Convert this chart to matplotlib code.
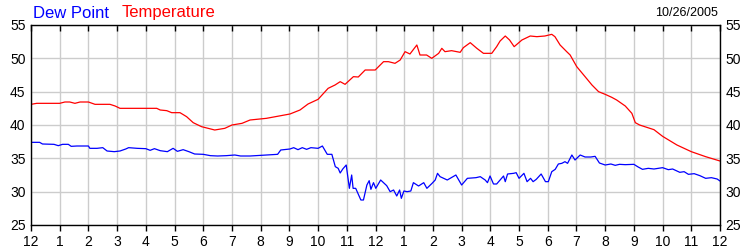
import matplotlib
matplotlib.use("Agg")
import matplotlib.pyplot as plt

plt.rcParams["font.family"] = ["Liberation Sans", "DejaVu Sans"]

# hours since midnight, 10/26/2005
temp_hours = [0.0, 0.2, 1.0, 1.18, 1.35, 1.53, 1.71, 2.0, 2.23, 2.75, 2.93, 3.1, 3.6, 4.38,
              4.5, 4.73, 4.9, 5.19, 5.42, 5.65, 5.94, 6.4, 6.75, 7.0, 7.35, 7.63, 8.2,
              9.02, 9.37, 9.65, 10.0, 10.35, 10.59, 10.77, 10.94, 11.23, 11.4, 11.64,
              11.99, 12.28, 12.45, 12.68, 12.86, 13.03, 13.2, 13.44, 13.55, 13.78, 13.96,
              14.2, 14.31, 14.42, 14.65, 14.95, 15.06, 15.3, 15.53, 15.76, 16.05, 16.22,
              16.34, 16.52, 16.67, 16.83, 17.1, 17.39, 17.62, 17.9, 18.14, 18.25, 18.43,
              18.66, 18.78, 19.01, 19.3, 19.54, 19.77, 20.0, 20.23, 20.4, 20.7, 20.93,
              21.05, 21.2, 21.7, 22.0, 22.5, 23.0, 23.5, 24.0]
temperature = [43.1, 43.25, 43.25, 43.45, 43.45, 43.25, 43.45, 43.45, 43.1, 43.1, 42.85,
               42.5, 42.5, 42.5, 42.25, 42.15, 41.85, 41.85, 41.25, 40.35, 39.75, 39.25,
               39.5, 40.0, 40.25, 40.75, 41.0, 41.65, 42.25, 43.15, 43.85, 45.5, 46.0,
               46.5, 46.1, 47.25, 47.2, 48.25, 48.25, 49.5, 49.5, 49.25, 49.75, 51.0,
               50.65, 52.0, 50.5, 50.5, 50.0, 50.75, 51.5, 51.0, 51.15, 50.9, 51.6,
               52.35, 51.5, 50.75, 50.75, 51.75, 52.6, 53.35, 52.75, 51.75, 52.75,
               53.35, 53.25, 53.35, 53.6, 53.25, 52.0, 51.0, 50.5, 48.75, 47.25, 46.0,
               45.0, 44.6, 44.15, 43.75, 42.85, 41.75, 40.35, 40.0, 39.3, 38.3, 37.0,
               36.0, 35.25, 34.6]

dew_hours = [0.0, 0.3, 0.4, 0.8, 0.95, 1.1, 1.3, 1.4, 1.6, 2.0, 2.05, 2.3, 2.5, 2.65, 2.9,
             3.1, 3.3, 3.4, 3.7, 4.0, 4.15, 4.3, 4.5, 4.75, 4.95, 5.1, 5.3, 5.5, 5.7,
             6.0, 6.25, 6.5, 6.8, 7.1, 7.3, 7.63, 8.0, 8.59, 8.7, 9.02, 9.15, 9.3, 9.45,
             9.6, 9.75, 10.0, 10.15, 10.32, 10.48, 10.6, 10.7, 10.77, 10.86, 10.98,
             11.09, 11.17, 11.22, 11.31, 11.49, 11.58, 11.7, 11.78, 11.84, 11.93, 12.01,
             12.18, 12.39, 12.51, 12.63, 12.74, 12.84, 12.9, 12.99, 13.1, 13.23, 13.32,
             13.5, 13.68, 13.79, 13.97, 14.08, 14.16, 14.25, 14.5, 14.8, 15.0, 15.2,
             15.5, 15.65, 15.82, 15.9, 15.99, 16.11, 16.22, 16.46, 16.52, 16.6, 16.81,
             16.9, 17.0, 17.17, 17.28, 17.4, 17.49, 17.6, 17.77, 17.92, 18.02, 18.14,
             18.26, 18.37, 18.49, 18.6, 18.69, 18.84, 18.95, 19.13, 19.3, 19.5, 19.65,
             19.8, 20.0, 20.2, 20.35, 20.5, 20.7, 21.0, 21.15, 21.3, 21.5, 21.7, 22.0,
             22.2, 22.35, 22.6, 22.75, 22.9, 23.1, 23.3, 23.5, 23.7, 23.9, 24.0]
dew_point = [37.4, 37.4, 37.15, 37.1, 36.9, 37.1, 37.1, 36.8, 36.85, 36.85, 36.5, 36.5,
             36.6, 36.1, 36.0, 36.1, 36.4, 36.6, 36.5, 36.45, 36.2, 36.45, 36.15, 36.0,
             36.5, 36.05, 36.3, 36.0, 35.65, 35.6, 35.4, 35.35, 35.4, 35.5, 35.35, 35.35,
             35.45, 35.6, 36.25, 36.4, 36.6, 36.3, 36.6, 36.35, 36.6, 36.5, 36.85, 35.6,
             35.6, 33.75, 33.5, 32.8, 33.4, 34.0, 30.5, 32.5, 30.5, 30.5, 28.75, 28.75,
             31.0, 31.65, 30.35, 31.35, 30.5, 31.75, 30.9, 30.0, 30.25, 29.35, 30.25,
             29.0, 30.1, 30.0, 30.1, 31.35, 30.85, 31.35, 30.5, 31.25, 31.75, 32.75,
             32.25, 31.75, 32.5, 31.0, 32.0, 32.1, 32.25, 31.75, 31.35, 32.35, 31.15,
             31.15, 32.35, 31.5, 32.65, 32.75, 32.85, 32.0, 32.75, 31.5, 32.0, 31.5,
             31.85, 32.65, 31.5, 31.5, 33.0, 33.35, 34.15, 34.25, 34.5, 34.25, 35.5,
             34.75, 35.5, 35.2, 35.2, 35.3, 34.3, 34.0, 34.15, 33.95, 34.1, 34.05, 34.1,
             33.7, 33.35, 33.5, 33.4, 33.6, 33.3, 33.4, 32.9, 33.0, 32.6, 32.7, 32.4,
             32.0, 32.1, 31.9, 31.6]

hour_labels = ["12", "1", "2", "3", "4", "5", "6", "7", "8", "9", "10", "11",
               "12", "1", "2", "3", "4", "5", "6", "7", "8", "9", "10", "11", "12"]
y_ticks = [25, 30, 35, 40, 45, 50, 55]

fig = plt.figure(figsize=(7.5, 2.5), dpi=100)
ax = fig.add_axes([31 / 750, 25 / 250, 689 / 750, 200 / 250])

ax.plot(temp_hours, temperature, color="#ff0000", lw=0.9)
ax.plot(dew_hours, dew_point, color="#0000ff", lw=0.9)

ax.set_xlim(0, 24)
ax.set_ylim(25, 55)
ax.set_xticks(range(25))
ax.set_xticklabels(hour_labels)
ax.set_yticks(y_ticks)
ax.grid(True, color="#cccccc", lw=1.0)
ax.set_axisbelow(True)

ax.tick_params(axis="x", direction="out", length=4, width=1, labelsize=10, pad=3,
               top=True, color="black")
ax.tick_params(axis="y", length=0, labelsize=10, pad=4, labelright=True)
# top ticks point inside the plot
for t in ax.xaxis.get_major_ticks():
    t.tick2line.set_marker(matplotlib.lines.TICKDOWN)
for s in ax.spines.values():
    s.set_linewidth(1.0)

fig.text(33 / 750, 1 - 13 / 250, "Dew Point", color="#0000ff", fontsize=12, va="center")
fig.text(122 / 750, 1 - 13 / 250, "Temperature", color="#ff0000", fontsize=12, va="center")
fig.text(718 / 750, 1 - 13 / 250, "10/26/2005", color="black", fontsize=9,
         va="center", ha="right")

fig.savefig("out.png", dpi=100)
